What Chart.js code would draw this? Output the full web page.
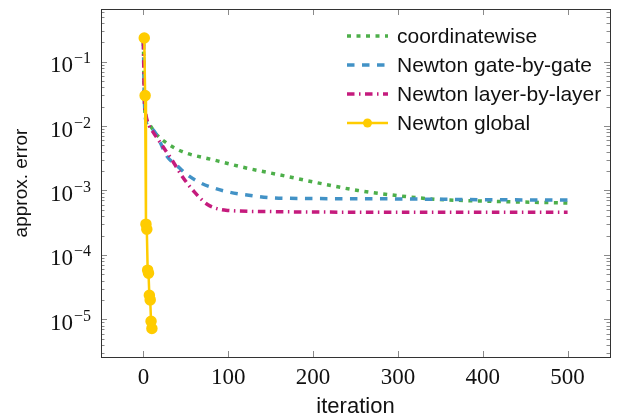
<!DOCTYPE html>
<html>
<head>
<meta charset="utf-8">
<script src="https://cdn.jsdelivr.net/npm/chart.js@4/dist/chart.umd.min.js"></script>
<style>
  html, body { margin: 0; padding: 0; background: #fff; }
  #wrap { width: 629px; height: 420px; }
</style>
</head>
<body>
<div id="wrap"><canvas id="chart" width="629" height="420"></canvas></div>
<script>
'use strict';

// valeurs (x = itération, y = erreur approx.)
const coordinatewise = [
  [0, 0.2], [1, 0.03], [3, 0.013], [7, 0.0105], [15, 0.0075], [27, 0.0055],
  [46, 0.004], [82, 0.003], [117, 0.0023], [165, 0.0017], [207, 0.0013],
  [253, 0.001], [300, 0.00083], [345, 0.00073], [392, 0.00069], [450, 0.00066], [500, 0.00064],
];
const gateByGate = [
  [0, 0.2], [1, 0.03], [3, 0.012], [7, 0.0098], [13, 0.0082], [20, 0.0055],
  [27, 0.0035], [40, 0.0024], [52, 0.00174], [68, 0.0013], [84, 0.00108],
  [100, 0.00095], [117, 0.00087], [152, 0.00077], [200, 0.00075], [300, 0.00074],
  [400, 0.00072], [500, 0.00071],
];
const layerByLayer = [
  [0, 0.2], [1, 0.03], [3, 0.015], [7, 0.01], [11, 0.0082], [23, 0.0048],
  [35, 0.0028], [46, 0.00164], [60, 0.00095], [76, 0.0006], [90, 0.00051],
  [100, 0.00049], [150, 0.00047], [300, 0.00046], [500, 0.00046],
];
const newtonGlobal = [
  [1, 0.233], [2, 0.0297], [3, 0.0003], [4, 0.00025], [5, 0.000058],
  [6, 0.000052], [7, 0.0000236], [8, 0.00002], [9, 0.0000093], [10, 0.0000072],
];

const seriesLabels = ['coordinatewise', 'Newton gate-by-gate', 'Newton layer-by-layer', 'Newton global'];
const xTicks = [0, 100, 200, 300, 400, 500];
const yDecades = [1e-5, 1e-4, 1e-3, 1e-2, 1e-1];
const yExponents = ['−5', '−4', '−3', '−2', '−1'];

const SANS = '"Liberation Sans", Arial, sans-serif';
const SERIF = '"Liberation Serif", "DejaVu Serif", serif';

const toPts = (arr) => arr.map(([x, y]) => ({ x, y }));

// cadre + graduations vers l'intérieur, façon pgfplots
const framePlugin = {
  id: 'frame',
  afterDatasetsDraw(chart) {
    const { ctx, chartArea: a, scales } = chart;
    ctx.save();
    ctx.strokeStyle = '#8a8a8a';
    ctx.lineWidth = 1;
    ctx.beginPath();
    xTicks.forEach((v) => {
      const px = Math.round(scales.x.getPixelForValue(v)) + 0.5;
      ctx.moveTo(px, a.bottom); ctx.lineTo(px, a.bottom - 6);
      ctx.moveTo(px, a.top); ctx.lineTo(px, a.top + 6);
    });
    const ys = scales.y;
    for (let e = -6; e <= 0; e++) {
      for (let m = 1; m <= 9; m++) {
        const v = m * Math.pow(10, e);
        if (v < ys.min || v > ys.max) continue;
        const py = Math.round(ys.getPixelForValue(v)) + 0.5;
        const len = m === 1 ? 6 : 3.5;
        ctx.moveTo(a.left, py); ctx.lineTo(a.left + len, py);
        ctx.moveTo(a.right, py); ctx.lineTo(a.right - len, py);
      }
    }
    ctx.stroke();
    ctx.strokeStyle = '#333';
    ctx.strokeRect(Math.round(a.left) + 0.5, Math.round(a.top) + 0.5,
      Math.round(a.right - a.left), Math.round(a.bottom - a.top));

    // étiquettes 10^n avec exposant surélevé
    ctx.fillStyle = '#111';
    ctx.textAlign = 'right';
    ctx.textBaseline = 'alphabetic';
    yDecades.forEach((v, i) => {
      const py = ys.getPixelForValue(v);
      const xr = a.left - 10;
      ctx.font = '16px ' + SERIF;
      const w = ctx.measureText(yExponents[i]).width;
      ctx.fillText(yExponents[i], xr, py + 1.5);
      ctx.font = '23px ' + SERIF;
      ctx.fillText('10', xr - w - 1, py + 10.5);
    });
    ctx.restore();
  },
};

// légende dessinée à la main pour avoir les traits pointillés comme l'original
const legendPlugin = {
  id: 'pgfLegend',
  afterDraw(chart) {
    const { ctx } = chart;
    ctx.save();
    chart.data.datasets.forEach((ds, i) => {
      const y = 36 + i * 29;
      ctx.strokeStyle = ds.borderColor;
      ctx.lineWidth = ds.borderWidth;
      ctx.setLineDash(ds.borderDash || []);
      ctx.beginPath();
      ctx.moveTo(347, y); ctx.lineTo(388, y);
      ctx.stroke();
      ctx.setLineDash([]);
      if (ds.pointRadius) {
        ctx.fillStyle = ds.borderColor;
        ctx.beginPath();
        ctx.arc(367.5, y, ds.pointRadius, 0, Math.PI * 2);
        ctx.fill();
      }
      ctx.fillStyle = '#111';
      ctx.font = '21px ' + SANS;
      ctx.textBaseline = 'middle';
      ctx.fillText(ds.label, 397, y + 1);
    });
    ctx.restore();
  },
};

new Chart(document.getElementById('chart'), {
  type: 'line',
  data: {
    datasets: [
      {
        label: seriesLabels[0], data: toPts(coordinatewise), borderColor: '#4daf4a',
        borderWidth: 3.5, borderDash: [4, 5.5], pointRadius: 0, cubicInterpolationMode: 'monotone', order: 3,
      },
      {
        label: seriesLabels[1], data: toPts(gateByGate), borderColor: '#4292c6',
        borderWidth: 3.5, borderDash: [7.5, 7.5], pointRadius: 0, cubicInterpolationMode: 'monotone', order: 2,
      },
      {
        label: seriesLabels[2], data: toPts(layerByLayer), borderColor: '#c51b7d',
        borderWidth: 3.5, borderDash: [7.5, 4.5, 1.5, 4.5], pointRadius: 0, cubicInterpolationMode: 'monotone', order: 1,
      },
      {
        label: seriesLabels[3], data: toPts(newtonGlobal), borderColor: '#ffcc00',
        backgroundColor: '#ffcc00', pointBackgroundColor: '#ffcc00', pointBorderColor: '#ffcc00',
        borderWidth: 2.5, pointRadius: 4.5, tension: 0, order: 0,
      },
    ],
  },
  options: {
    responsive: false,
    animation: false,
    layout: { padding: { top: 9, right: 19, left: 0, bottom: 0 } },
    plugins: { legend: { display: false }, tooltip: { enabled: false } },
    scales: {
      x: {
        type: 'linear', min: -50, max: 550,
        afterBuildTicks: (s) => { s.ticks = xTicks.map((v) => ({ value: v })); },
        afterFit: (s) => { s.height = 63; },
        grid: { display: false },
        border: { display: false },
        ticks: { color: '#111', font: { family: SERIF, size: 23 }, padding: -1, maxRotation: 0 },
        title: { display: true, text: 'iteration', color: '#111', font: { family: SANS, size: 22 }, padding: { top: 0, bottom: 0 } },
      },
      y: {
        type: 'logarithmic', min: 2.6e-6, max: 0.657,
        afterBuildTicks: (s) => { s.ticks = yDecades.map((v) => ({ value: v })); },
        afterFit: (s) => { s.width = 101; },
        grid: { display: false },
        border: { display: false },
        ticks: { display: false },
        title: { display: true, text: 'approx. error', color: '#111', font: { family: SANS, size: 19 }, padding: { top: 10, bottom: 0 } },
      },
    },
  },
  plugins: [framePlugin, legendPlugin],
});
</script>
</body>
</html>
